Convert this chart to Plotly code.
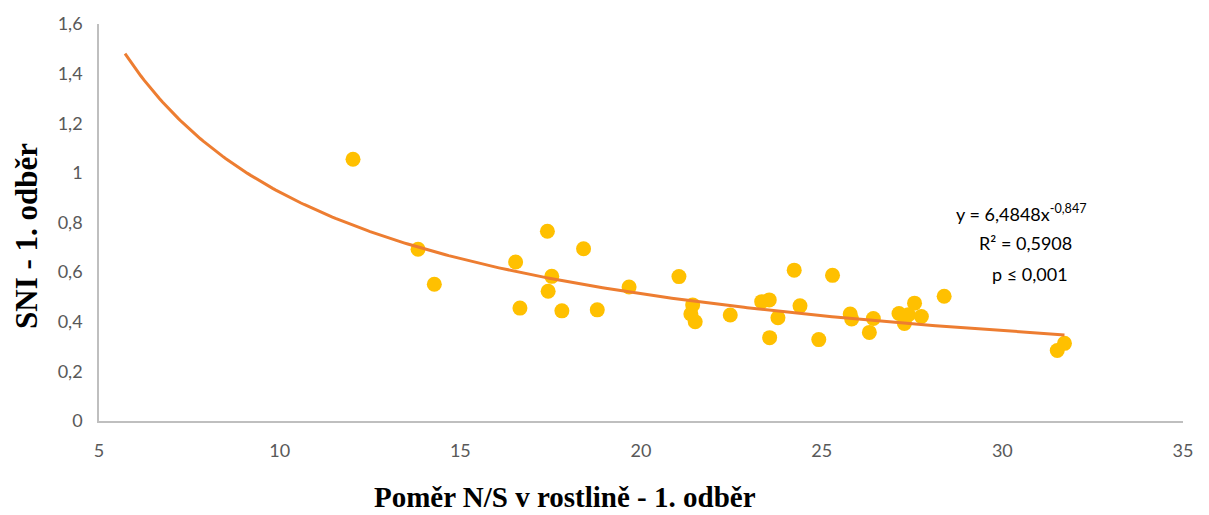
import numpy as np
import plotly.graph_objects as go

# Data
ns_ratio = [12.03, 13.83, 14.28, 16.53, 17.41, 18.41, 17.53, 17.43, 16.65, 17.81, 18.79, 19.67,
            21.05, 21.43, 21.38, 21.50, 22.47, 23.34, 23.55, 23.56, 23.79, 24.24, 24.40, 24.92, 25.30,
            25.79, 25.83, 26.43, 26.32, 27.14, 27.29, 27.57, 27.76, 27.40, 28.39, 31.72, 31.52]
sni = [1.055, 0.692, 0.551, 0.641, 0.765, 0.694, 0.583, 0.523, 0.455, 0.444, 0.448, 0.540,
       0.582, 0.468, 0.431, 0.400, 0.427, 0.481, 0.488, 0.336, 0.416, 0.608, 0.464, 0.328, 0.587,
       0.431, 0.411, 0.413, 0.357, 0.433, 0.393, 0.475, 0.421, 0.428, 0.503, 0.313, 0.284]

# Power trendline coefficients from the chart label
coef_a = 6.4848
coef_b = -0.847
trend_start = 5.72
trend_end = 31.72

x_ticks = [5, 10, 15, 20, 25, 30, 35]
y_ticks = [0, 0.2, 0.4, 0.6, 0.8, 1.0, 1.2, 1.4, 1.6]
y_tick_labels = ["0", "0,2", "0,4", "0,6", "0,8", "1", "1,2", "1,4", "1,6"]

tx = np.linspace(trend_start, trend_end, 300)
ty = coef_a * tx ** coef_b

fig = go.Figure()
fig.add_trace(go.Scatter(x=ns_ratio, y=sni, mode="markers",
                         marker=dict(color="#FFC000", size=15, line=dict(width=0)),
                         showlegend=False, hoverinfo="x+y"))
fig.add_trace(go.Scatter(x=tx, y=ty, mode="lines",
                         line=dict(color="#ED7D31", width=3),
                         showlegend=False, hoverinfo="skip"))

tick_font = dict(family="Lato, Open Sans, sans-serif", size=18, color="#595959")
fig.update_layout(
    width=1209, height=515,
    margin=dict(l=99, r=26, t=22, b=94),
    paper_bgcolor="white", plot_bgcolor="white",
    xaxis=dict(range=[5, 35], tickvals=x_ticks, ticktext=[str(v) for v in x_ticks],
               showgrid=False, zeroline=False, showline=True, linecolor="#BFBFBF", linewidth=1.5,
               ticks="outside", ticklen=13, tickcolor="rgba(0,0,0,0)", tickfont=tick_font),
    yaxis=dict(range=[0, 1.6], tickvals=y_ticks, ticktext=y_tick_labels,
               showgrid=False, zeroline=False, showline=True, linecolor="#BFBFBF", linewidth=1.5,
               ticks="outside", ticklen=11, tickcolor="rgba(0,0,0,0)", tickfont=tick_font),
    font=dict(family="Lato, Open Sans, sans-serif"),
)

pw, ph = 1209 - 99 - 26, 515 - 22 - 94


def px_to_paper(px, py):
    return (px - 99) / pw, (515 - py - 94) / ph


ann_font = dict(family="Lato, Open Sans, sans-serif", size=18, color="#000000")
for (cx, cy), txt in [((1021, 212), "y = 6,4848x<sup>-0,847</sup>"),
                      ((1025, 242), "R² = 0,5908"),
                      ((1030, 273), "p ≤ 0,001")]:
    ax, ay = px_to_paper(cx, cy)
    fig.add_annotation(x=ax, y=ay, xref="paper", yref="paper", text=txt, showarrow=False,
                       font=ann_font, xanchor="center", yanchor="middle")

title_font = dict(family="Liberation Serif, Times New Roman, serif", size=29, color="#000000")
ax, ay = px_to_paper(565, 497)
fig.add_annotation(x=ax, y=ay, xref="paper", yref="paper",
                   text="<b>Poměr N/S v rostlině - 1. odběr</b>", showarrow=False, font=title_font,
                   xanchor="center", yanchor="middle")
ytitle_font = dict(family="Liberation Serif, Times New Roman, serif", size=31, color="#000000")
ax, ay = px_to_paper(27, 235)
fig.add_annotation(x=ax, y=ay, xref="paper", yref="paper",
                   text="<b>SNI - 1. odběr</b>", showarrow=False, font=ytitle_font, textangle=-90,
                   xanchor="center", yanchor="middle")

fig.write_html("out.html")
